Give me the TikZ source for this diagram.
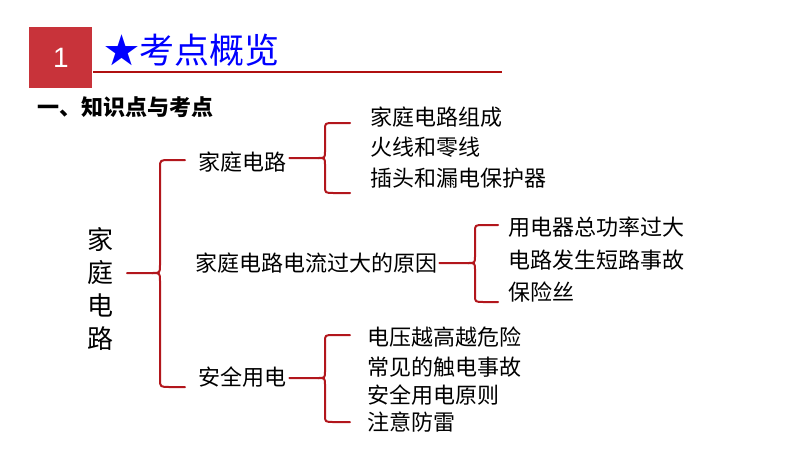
\documentclass[tikz,border=0pt]{standalone}
\usepackage{fontspec}
\setmainfont{Noto Sans CJK SC}
\newfontfamily\arialf{Liberation Sans}
\definecolor{hdred}{HTML}{C8333A}
\definecolor{lnred}{HTML}{B01010}
\definecolor{brred}{HTML}{B2161C}
\definecolor{ttblue}{HTML}{0000FF}
\tikzset{
  item/.style={anchor=west,inner sep=0pt,font=\fontsize{22}{24}\selectfont,text=black},
  brace/.style={draw=brred,line width=2pt,line cap=round,line join=round}
}
\begin{document}
\begin{tikzpicture}[x=1pt,y=-1pt]
\useasboundingbox (0,0) rectangle (800,450);
% header
\fill[hdred] (29,27) rectangle (92,88);
\node[text=white,font=\arialf\fontsize{28}{30}\selectfont] (num) at (61,58) {1};
\draw[lnred,line width=1.8pt] (93,72) -- (502,72);
\node[anchor=west,inner sep=0pt,text=ttblue,font=\fontsize{35}{38}\selectfont] (title) at (104,50) {★考点概览};
\node[anchor=west,inner sep=0pt,font=\bfseries\fontsize{22}{24}\selectfont] (sub) at (37,107) {一、知识点与考点};
% root
\node[align=center,inner sep=0pt,font=\fontsize{26}{33}\selectfont] (root) at (100,289) {家\\庭\\电\\路};
% level 2
\node[item] (a) at (198,162) {家庭电路};
\node[item] (b) at (195,263) {家庭电路电流过大的原因};
\node[item] (c) at (198,377) {安全用电};
% level 3
\node[item] (a1) at (370,117) {家庭电路组成};
\node[item] (a2) at (370,147) {火线和零线};
\node[item] (a3) at (370,178) {插头和漏电保护器};
\node[item] (b1) at (508,227) {用电器总功率过大};
\node[item] (b2) at (508,260) {电路发生短路事故};
\node[item] (b3) at (508,292) {保险丝};
\node[item] (c1) at (367,337) {电压越高越危险};
\node[item] (c2) at (367,367) {常见的触电事故};
\node[item] (c3) at (367,395) {安全用电原则};
\node[item] (c4) at (367,422) {注意防雷};
% braces
% main
\coordinate (m0) at (127,273);
\draw[brace] (m0) -- (152,273) .. controls (160,273) .. (160,265) -- (160,168) .. controls (160,160) .. (170,160) -- (185,160);
\draw[brace] (152,273) .. controls (160,273) .. (160,281) -- (160,379) .. controls (160,387) .. (170,387) -- (185,387);
% a
\draw[brace] ([xshift=3pt,yshift=4pt]a.east) -- (318,158) .. controls (325,158) .. (325,151) -- (325,130) .. controls (325,123) .. (334,123) -- (350,123);
\draw[brace] (318,158) .. controls (325,158) .. (325,165) -- (325,186) .. controls (325,193) .. (334,193) -- (350,193);
% b
\draw[brace] ([xshift=2pt]b.east) -- (468,263) .. controls (475,263) .. (475,256) -- (475,232) .. controls (475,225) .. (484,225) -- (498,225);
\draw[brace] (468,263) .. controls (475,263) .. (475,270) -- (475,295) .. controls (475,302) .. (484,302) -- (498,302);
% c
\draw[brace] ([xshift=3pt,yshift=-1pt]c.east) -- (318,378) .. controls (325,378) .. (325,371) -- (325,342) .. controls (325,335) .. (334,335) -- (350,335);
\draw[brace] (318,378) .. controls (325,378) .. (325,385) -- (325,415) .. controls (325,422) .. (334,422) -- (350,422);
\end{tikzpicture}
\end{document}
